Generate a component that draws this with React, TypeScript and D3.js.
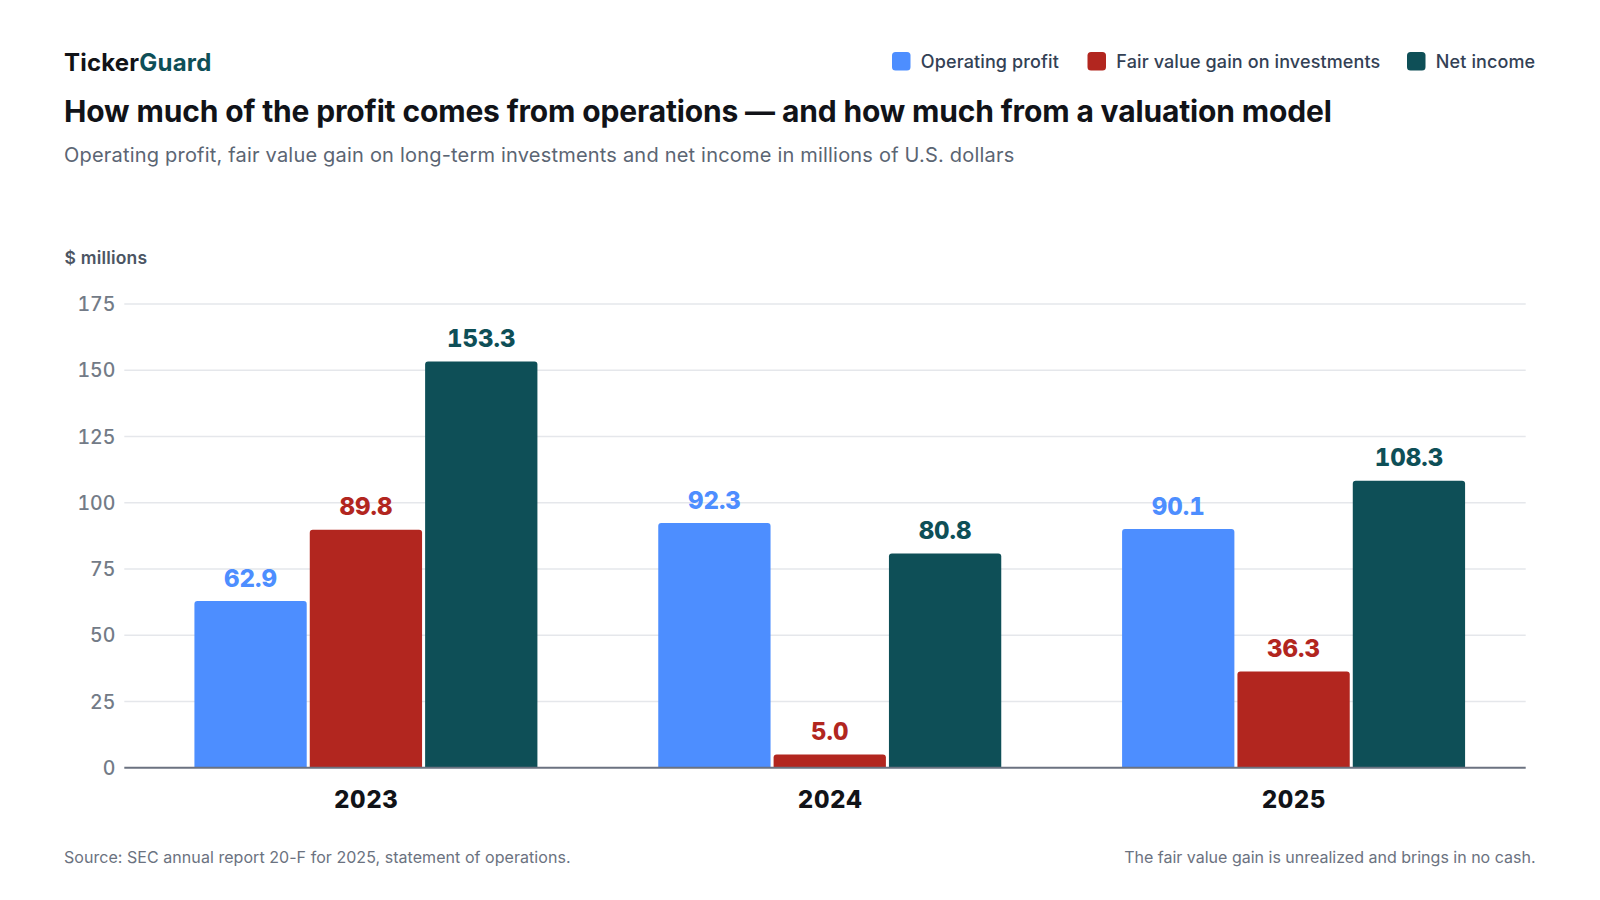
import React, { useEffect, useRef } from "react";
import * as d3 from "d3";

const years = ["2023", "2024", "2025"];
const seriesNames = ["Operating profit", "Fair value gain on investments", "Net income"];
const seriesKeys = ["op", "fv", "ni"];
const operatingProfit = [62.9, 92.3, 90.1];
const fairValueGain = [89.8, 5.0, 36.3];
const netIncome = [153.3, 80.8, 108.3];
const yTicks = [0, 25, 50, 75, 100, 125, 150, 175];
const colors = ["#4d8eff", "#b2261f", "#0e4f57"];

const W = 1600;
const H = 900;
const FONT = "Inter, 'Noto Sans', sans-serif";

export default function App() {
  const ref = useRef<SVGSVGElement | null>(null);

  useEffect(() => {
    const svg = d3.select(ref.current);
    svg.selectAll("*").remove();

    const values = [operatingProfit, fairValueGain, netIncome];

    const y = d3.scaleLinear().domain([0, 175]).range([767.7, 303.9]);
    const x0 = d3.scaleBand().domain(years).range([134, 1525.5]).paddingInner(0).paddingOuter(0);
    const x1 = d3.scaleBand().domain(seriesKeys).range([-171.5, 171.5]).paddingInner(0.0264).paddingOuter(0);

    const gridL = 124.3;
    const gridR = 1525.7;

    // Brand
    const brand = svg.append("text").attr("x", 64).attr("y", 70.7)
      .attr("font-family", FONT).attr("font-size", 24).attr("font-weight", 700)
      .attr("letter-spacing", 0.2);
    brand.append("tspan").attr("fill", "#111318").text("Ticker");
    brand.append("tspan").attr("fill", "#0e4f57").text("Guard");

    // Title
    svg.append("text").attr("x", 64).attr("y", 122)
      .attr("font-family", FONT).attr("font-size", 30).attr("font-weight", 700)
      .attr("letter-spacing", -0.15).attr("fill", "#111318")
      .text("How much of the profit comes from operations — and how much from a valuation model");

    // Subtitle
    svg.append("text").attr("x", 64).attr("y", 161.5)
      .attr("font-family", FONT).attr("font-size", 20).attr("font-weight", 400)
      .attr("letter-spacing", 0.2)
      .attr("fill", "#5b6573")
      .text("Operating profit, fair value gain on long-term investments and net income in millions of U.S. dollars");

    // Legend
    const legendSquareX = [892, 1087.5, 1407];
    seriesNames.forEach((name, i) => {
      svg.append("rect").attr("x", legendSquareX[i]).attr("y", 52).attr("width", 18.5).attr("height", 18.5)
        .attr("rx", 3.5).attr("fill", colors[i]);
      svg.append("text").attr("x", legendSquareX[i] + 28.8).attr("y", 68)
        .attr("font-family", FONT).attr("font-size", 18).attr("font-weight", 500)
        .attr("letter-spacing", 0.12)
        .attr("fill", "#334155").text(name);
    });

    // Axis title
    svg.append("text").attr("x", 64.5).attr("y", 263.7)
      .attr("font-family", FONT).attr("font-size", 17.5).attr("font-weight", 600)
      .attr("letter-spacing", 0.2)
      .attr("fill", "#4b5563").text("$ millions");

    // Gridlines and ticks
    yTicks.forEach((t) => {
      if (t !== 0) {
        svg.append("line").attr("x1", gridL).attr("x2", gridR).attr("y1", y(t)).attr("y2", y(t))
          .attr("stroke", "#e5e7eb").attr("stroke-width", 1.5);
      }
      svg.append("text").attr("x", 115.3).attr("y", y(t) + 7.2).attr("text-anchor", "end")
        .attr("font-family", FONT).attr("font-size", 19.5).attr("font-weight", 500)
        .style("font-variant-numeric", "tabular-nums")
        .attr("fill", "#737b87").text(String(t));
    });

    // Bars
    const r = 3;
    years.forEach((yr, gi) => {
      const cx = (x0(yr) as number) + x0.bandwidth() / 2;
      seriesKeys.forEach((k, si) => {
        const v = values[si][gi];
        const bx = cx + (x1(k) as number);
        const bw = x1.bandwidth();
        const top = y(v);
        const bottom = y(0);
        const p = d3.path();
        p.moveTo(bx, bottom);
        p.lineTo(bx, top + r);
        p.quadraticCurveTo(bx, top, bx + r, top);
        p.lineTo(bx + bw - r, top);
        p.quadraticCurveTo(bx + bw, top, bx + bw, top + r);
        p.lineTo(bx + bw, bottom);
        p.closePath();
        svg.append("path").attr("d", p.toString()).attr("fill", colors[si]);
        svg.append("text").attr("x", bx + bw / 2).attr("y", top - 14.3).attr("text-anchor", "middle")
          .attr("font-family", FONT).attr("font-size", 24).attr("font-weight", 800)
          .style("font-variant-numeric", "tabular-nums")
          .attr("fill", colors[si]).text(v.toFixed(1));
      });
      svg.append("text").attr("x", cx + 0.3).attr("y", 807.5).attr("text-anchor", "middle")
        .attr("font-family", FONT).attr("font-size", 24).attr("font-weight", 800)
        .attr("letter-spacing", 0.6)
        .style("font-variant-numeric", "tabular-nums")
        .attr("fill", "#111318").text(yr);
    });

    // Baseline axis
    svg.append("line").attr("x1", gridL).attr("x2", gridR).attr("y1", y(0)).attr("y2", y(0))
      .attr("stroke", "#6b7280").attr("stroke-width", 2);

    // Footer
    svg.append("text").attr("x", 64).attr("y", 862.7)
      .attr("font-family", FONT).attr("font-size", 16).attr("font-weight", 400)
      .attr("letter-spacing", 0.05)
      .attr("fill", "#6b7280").text("Source: SEC annual report 20-F for 2025, statement of operations.");
    svg.append("text").attr("x", 1535.5).attr("y", 862.7).attr("text-anchor", "end")
      .attr("font-family", FONT).attr("font-size", 16).attr("font-weight", 400)
      .attr("fill", "#6b7280").text("The fair value gain is unrealized and brings in no cash.");
  }, []);

  return (
    <svg
      ref={ref}
      width={W}
      height={H}
      viewBox={`0 0 ${W} ${H}`}
      style={{ position: "absolute", left: 0, top: 0, background: "#ffffff" }}
    />
  );
}
